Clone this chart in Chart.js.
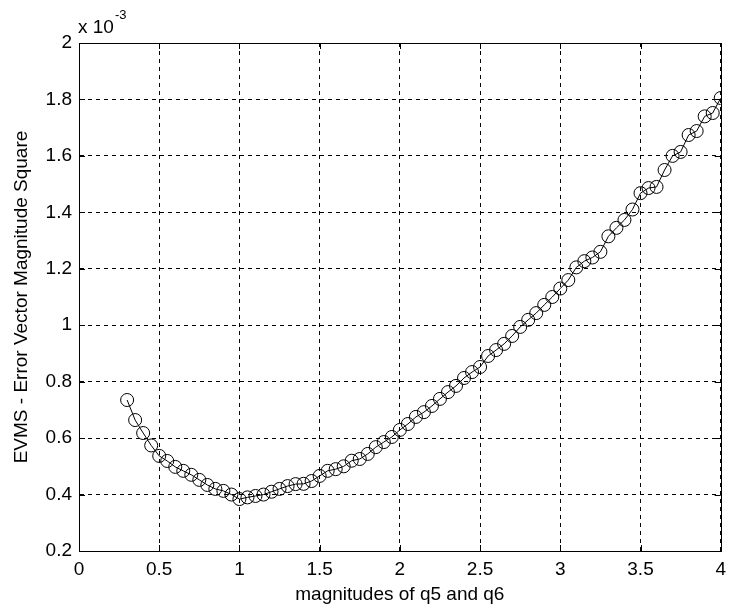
<!DOCTYPE html>
<html>
<head>
<meta charset="utf-8">
<script src="https://cdn.jsdelivr.net/npm/chart.js@4.4.1/dist/chart.umd.min.js"></script>
<style>
  html, body { margin: 0; padding: 0; background: #fff; }
  #wrap { width: 733px; height: 613px; }
</style>
</head>
<body>
<div id="wrap"><canvas id="myChart" width="733" height="613"></canvas></div>
<script>
// magnitudes of q5 and q6
var magnitudes = [0.3, 0.35, 0.4, 0.45, 0.5, 0.55, 0.6, 0.65, 0.7, 0.75,
  0.8, 0.85, 0.9, 0.95, 1.0, 1.05, 1.1, 1.15, 1.2, 1.25,
  1.3, 1.35, 1.4, 1.45, 1.5, 1.55, 1.6, 1.65, 1.7, 1.75,
  1.8, 1.85, 1.9, 1.95, 2.0, 2.05, 2.1, 2.15, 2.2, 2.25,
  2.3, 2.35, 2.4, 2.45, 2.5, 2.55, 2.6, 2.65, 2.7, 2.75,
  2.8, 2.85, 2.9, 2.95, 3.0, 3.05, 3.1, 3.15, 3.2, 3.25,
  3.3, 3.35, 3.4, 3.45, 3.5, 3.55, 3.6, 3.65, 3.7, 3.75,
  3.8, 3.85, 3.9, 3.95, 4.0];

// EVMS values, in units of 10^-3
var evms = [0.735, 0.664, 0.618, 0.574, 0.537, 0.519, 0.498, 0.484, 0.470, 0.452,
  0.434, 0.420, 0.413, 0.400, 0.384, 0.390, 0.395, 0.400, 0.410, 0.420,
  0.430, 0.437, 0.438, 0.448, 0.466, 0.484, 0.490, 0.500, 0.520, 0.526,
  0.544, 0.568, 0.586, 0.604, 0.629, 0.650, 0.675, 0.692, 0.714, 0.739,
  0.763, 0.785, 0.813, 0.834, 0.852, 0.891, 0.912, 0.934, 0.962, 0.994,
  1.019, 1.043, 1.072, 1.100, 1.130, 1.160, 1.205, 1.227, 1.240, 1.260,
  1.315, 1.345, 1.373, 1.410, 1.468, 1.486, 1.490, 1.550, 1.600, 1.614,
  1.674, 1.688, 1.740, 1.752, 1.805];

var xTicks = [0, 0.5, 1, 1.5, 2, 2.5, 3, 3.5, 4];
var yTicks = [0.2, 0.4, 0.6, 0.8, 1, 1.2, 1.4, 1.6, 1.8, 2];

var xTitle = 'magnitudes of q5 and q6';
var yTitle = 'EVMS - Error Vector Magnitude Square';
var expBase = 'x 10';
var expPower = '-3';

var fontFamily = 'Arial, "Liberation Sans", sans-serif';

function buildPoints() {
  var pts = [];
  for (var i = 0; i < magnitudes.length; i++) {
    pts.push({x: magnitudes[i], y: evms[i]});
  }
  return pts;
}

function fmt(v) {
  return String(Number(v.toFixed(2)));
}

// frame, inner tick marks and the exponent label, matlab style
var framePlugin = {
  id: 'frame',
  afterDraw: function(chart) {
    var ctx = chart.ctx;
    var a = chart.chartArea;
    var xs = chart.scales.x;
    var ys = chart.scales.y;
    var len = 6;
    ctx.save();
    ctx.strokeStyle = '#000';
    ctx.lineWidth = 1;
    ctx.setLineDash([]);
    ctx.strokeRect(Math.round(a.left) + 0.5, Math.round(a.top) + 0.5,
      Math.round(a.right - a.left), Math.round(a.bottom - a.top));
    ctx.beginPath();
    for (var i = 0; i < xTicks.length; i++) {
      var px = Math.round(xs.getPixelForValue(xTicks[i])) + 0.5;
      ctx.moveTo(px, a.bottom); ctx.lineTo(px, a.bottom - len);
      ctx.moveTo(px, a.top); ctx.lineTo(px, a.top + len);
    }
    for (var j = 0; j < yTicks.length; j++) {
      var py = Math.round(ys.getPixelForValue(yTicks[j])) + 0.5;
      ctx.moveTo(a.left, py); ctx.lineTo(a.left + len, py);
      ctx.moveTo(a.right, py); ctx.lineTo(a.right - len, py);
    }
    ctx.stroke();

    ctx.fillStyle = '#000';
    ctx.textBaseline = 'alphabetic';
    ctx.textAlign = 'left';
    ctx.font = '19px ' + fontFamily;
    ctx.fillText(expBase, a.left - 1, 33);
    var w = ctx.measureText(expBase).width;
    ctx.font = '13px ' + fontFamily;
    ctx.fillText(expPower, a.left - 1 + w + 1, 19);
    ctx.restore();
  }
};

function getChart() {
  var ctx = document.getElementById('myChart').getContext('2d');
  var chart = new Chart(ctx, {
    type: 'scatter',
    data: {
      datasets: [{
        data: buildPoints(),
        showLine: true,
        borderColor: '#000',
        borderWidth: 1,
        backgroundColor: 'rgba(0,0,0,0)',
        pointStyle: 'circle',
        pointRadius: 6.5,
        pointBorderWidth: 1,
        pointBorderColor: '#000',
        pointBackgroundColor: 'rgba(0,0,0,0)',
        tension: 0
      }]
    },
    options: {
      responsive: false,
      animation: false,
      devicePixelRatio: 1,
      layout: { padding: { left: 0, top: 43, right: 10, bottom: 0 } },
      plugins: {
        legend: { display: false },
        tooltip: { enabled: false }
      },
      scales: {
        x: {
          type: 'linear',
          min: 0,
          max: 4,
          afterFit: function(scale) { scale.height = 62; },
          afterBuildTicks: function(scale) {
            scale.ticks = xTicks.map(function(v) { return {value: v}; });
          },
          ticks: {
            padding: 7,
            color: '#000',
            font: { family: fontFamily, size: 19 },
            maxRotation: 0,
            callback: function(v) { return fmt(v); }
          },
          grid: { color: '#000', lineWidth: 1, drawTicks: false },
          border: { display: true, color: '#000', width: 1, dash: [4, 4] },
          title: {
            display: true,
            text: xTitle,
            color: '#000',
            font: { family: fontFamily, size: 19 },
            padding: { top: 0, bottom: 7 }
          }
        },
        y: {
          type: 'linear',
          min: 0.2,
          max: 2,
          afterFit: function(scale) { scale.width = 79; },
          afterBuildTicks: function(scale) {
            scale.ticks = yTicks.map(function(v) { return {value: v}; });
          },
          ticks: {
            padding: 7,
            color: '#000',
            font: { family: fontFamily, size: 19 },
            callback: function(v) { return fmt(v); }
          },
          grid: { color: '#000', lineWidth: 1, drawTicks: false },
          border: { display: true, color: '#000', width: 1, dash: [4, 4] },
          title: {
            display: true,
            text: yTitle,
            color: '#000',
            font: { family: fontFamily, size: 19 },
            padding: { top: 10, bottom: 0 }
          }
        }
      }
    },
    plugins: [framePlugin]
  });
  return chart;
}

getChart();
</script>
</body>
</html>
